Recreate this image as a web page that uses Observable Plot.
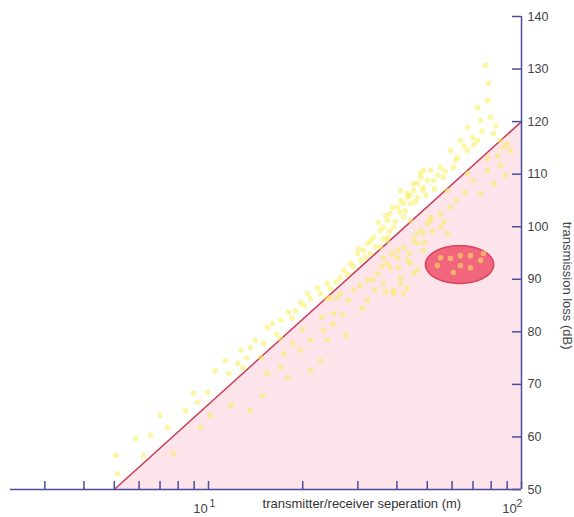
<!DOCTYPE html>
<html><head><meta charset="utf-8">
<script src="https://cdn.jsdelivr.net/npm/d3@7"></script>
<script src="https://cdn.jsdelivr.net/npm/@observablehq/plot@0.6"></script>
<style>body{margin:0;background:#fff} svg{display:block}</style>
</head><body><div id="chart"></div>
<script>
// measured samples: transmitter/receiver separation (m) and transmission loss (dB)
const scatterDistance = [
  5.05,5.12,5.85,6.2,7.73,9.22,9.93,9.43,8.96,7.4,10.15,7.0,8.44,6.53,
  11.6,12.4,13.6,14.1,15.4,16.0,17.0,18.0,19.7,21.2,22.8,24.5,17.0,14.7,12.9,17.0,17.4,21.2,23.3,24.0,25.1,25.8,19.7,15.4,17.9,22.8,21.2,27.4,13.6,14.9,11.8,11.3,10.5,12.7,
  20.7,22.3,24.0,26.4,28.4,29.9,31.3,32.2,33.7,35.4,36.2,37.3,38.1,40.2,41.1,43.2,45.2,46.5,47.6,48.6,50.1,44.2,42.0,39.0,37.3,35.4,32.9,41.1,46.5,48.3,38.7,36.8,34.9,30.6,27.0,
  24.5,26.4,29.1,32.2,34.7,37.3,40.2,42.0,45.2,47.6,50.1,36.2,41.1,44.2,48.6,39.0,32.2,46.5,43.2,
  76.7,78.4,77.9,72.4,74.0,79.6,67.2,63.8,69.8,59.3,62.5,55.1,51.2,47.6,52.3,56.3,45.2,43.2,42.0,48.6,58.0,60.6,67.2,72.4,81.4,85.7,87.6,
  67.2,77.9,81.4,74.0,55.1,59.3,51.2,92.2,90.2,85.7,88.9,
  37.3,40.2,38.1,43.2,41.1,45.2,39.0,46.5,48.6,44.2,36.2,42.0,51.2,55.1,58.0,
  55.1,59.3,63.8,68.7,74.0,63.8,68.7,60.6,53.9,75.6,
  25.5,27.8,29.0,30.2,31.8,33.0,34.2,36.0,37.8,39.5,40.8,42.5,44.0,45.8,49.5,52.8,54.0,57.0,61.5,65.5,70.5,75.0,83.0,19.0,20.2,23.8,18.5,16.5,15.0,13.2,
  28.0,30.5,33.5,35.8,38.5,43.8,46.0,49.0,52.0,56.5,62.0,66.0,70.0,78.0,84.0,36.8,31.0,26.8,23.0,20.0,18.6,25.0,40.5,34.0
];
const scatterLoss = [
  56.5,53.0,59.7,56.5,56.9,66.6,68.5,61.8,68.3,61.8,64.1,64.1,65.0,60.3,
  72.1,74.0,77.0,78.4,80.8,81.6,82.2,83.7,85.6,86.3,87.3,88.2,78.7,75.1,73.2,73.2,75.9,78.4,80.3,78.4,83.5,86.5,76.5,72.1,71.3,74.5,72.6,79.3,65.0,67.9,66.0,74.5,72.6,76.5,
  87.3,88.4,89.2,90.3,93.0,94.9,95.5,96.8,98.0,99.3,99.9,101.2,102.5,103.7,105.0,105.6,106.9,108.2,109.4,110.7,108.8,104.4,101.8,99.9,98.0,96.1,94.9,106.9,105.6,106.9,103.7,102.1,100.8,93.6,91.7,
  86.5,87.3,87.9,89.8,91.1,93.0,94.1,96.1,97.4,99.3,100.6,89.2,90.3,93.0,95.5,87.9,86.0,91.7,88.4,
  130.7,127.3,124.0,122.7,120.2,120.8,118.9,116.4,117.0,114.5,113.2,111.3,110.7,110.1,108.8,109.4,108.2,106.3,104.4,107.5,106.9,111.3,114.5,116.4,117.7,116.4,115.1,
  110.1,110.7,108.2,106.3,102.5,103.7,101.2,114.5,115.8,111.7,109.8,
  97.4,95.5,92.2,93.6,89.2,91.1,87.3,96.8,98.7,101.2,94.1,87.3,101.8,99.9,98.7,
  94.1,94.0,94.5,94.5,93.6,92.6,92.2,91.3,92.6,94.9,
  89.5,91.0,92.4,95.8,94.2,97.3,96.2,97.6,99.2,101.0,102.8,103.0,106.0,104.8,106.0,107.2,109.8,110.6,112.6,115.4,115.6,118.2,119.2,84.0,85.0,86.4,82.6,79.6,77.8,75.0,
  86.0,88.8,90.0,92.5,94.8,95.0,98.5,97.0,99.2,101.0,105.0,106.5,108.8,113.0,113.5,87.6,84.5,83.2,82.8,80.5,77.8,81.5,92.2,88.0
];
// model line end points
const modelDistance = [5, 100];
const modelLoss = [50, 120];
// highlighted cluster (ellipse)
const clusterDistance = [63.4];
const clusterLoss = [92.8];
const clusterHalfWidthDecades = [0.109];
const clusterHalfHeightDb = [3.6];
// axes
const xDomain = [2.33, 100];
const xTickValues = [3,4,5,6,7,8,9,10,20,30,40,50,60,70,80,90,100];
const xLabelValues = [10, 100];
const xLabelBase = ["10", "10"];
const xLabelExponent = ["1", "2"];
const yTickValues = [50,60,70,80,90,100,110,120,130,140];
const xTitle = "transmitter/receiver seperation (m)";
const yTitle = "transmission loss (dB)";

const points = scatterDistance.map((d, i) => ({d, L: scatterLoss[i]}));
const model = modelDistance.map((d, i) => ({d, L: modelLoss[i]}));
const ellipse = d3.range(0, 97).map(i => {
  const t = i / 96 * 2 * Math.PI;
  return {
    d: Math.pow(10, Math.log10(clusterDistance[0]) + clusterHalfWidthDecades[0] * Math.cos(t)),
    L: clusterLoss[0] + clusterHalfHeightDb[0] * Math.sin(t)
  };
});
const labelOffsets = [{base: -8, exp: 1}, {base: -12, exp: -5}];

const axisColor = "#4a4c9c";
const font = "Liberation Sans, Arial, Helvetica, sans-serif";

const labelMarks = xLabelValues.flatMap((v, i) => [
  Plot.text([v], {x: d => d, y: 50, dy: 19, dx: labelOffsets[i].base, text: () => xLabelBase[i], fontSize: 13, fill: "#444"}),
  Plot.text([v], {x: d => d, y: 50, dy: 14, dx: labelOffsets[i].exp, text: () => xLabelExponent[i], textAnchor: "start", fontSize: 10.5, fill: "#444"})
]);

const chart = Plot.plot({
  width: 574, height: 517,
  marginLeft: 10, marginRight: 53, marginTop: 16, marginBottom: 28,
  x: {type: "log", domain: xDomain, axis: null},
  y: {domain: [50, 140], axis: null},
  style: {fontFamily: font, background: "white", overflow: "visible"},
  marks: [
    Plot.areaY(model, {x: "d", y1: 50, y2: "L", fill: "#fde3ea"}),
    Plot.line(model, {x: "d", y: "L", stroke: "#c8425c", strokeWidth: 1.6}),
    Plot.line(ellipse, {x: "d", y: "L", fill: "#f1657d", stroke: "#d6435e", strokeWidth: 1.5, curve: "linear-closed"}),
    Plot.dot(points, {x: "d", y: "L", r: 2.8, fill: "#f9ee5e", fillOpacity: 0.55, stroke: null}),
    Plot.ruleY([50], {x1: xDomain[0], x2: 100, stroke: axisColor, strokeWidth: 1.5}),
    Plot.ruleX(xTickValues, {y1: 50, y2: 50, insetBottom: 8, stroke: axisColor, strokeWidth: 1.5}),
    Plot.ruleX([100], {y1: 50, y2: 140, stroke: axisColor, strokeWidth: 1.5}),
    Plot.ruleY(yTickValues, {x1: 100, x2: 100, insetLeft: -9, stroke: axisColor, strokeWidth: 1.5}),
    Plot.text(yTickValues, {x: 100, y: d => d, dx: 6, textAnchor: "start", fontSize: 12.5, fill: "#444"}),
    ...labelMarks,
    Plot.text([xTitle], {x: 30.9, y: 50, dy: 14, text: d => d, fontSize: 13, fill: "#333"}),
    Plot.text([yTitle], {x: 100, y: 88.8, dx: 46, rotate: 90, text: d => d, fontSize: 13, fill: "#444"})
  ]
});
document.getElementById("chart").appendChild(chart);
</script>
</body></html>
